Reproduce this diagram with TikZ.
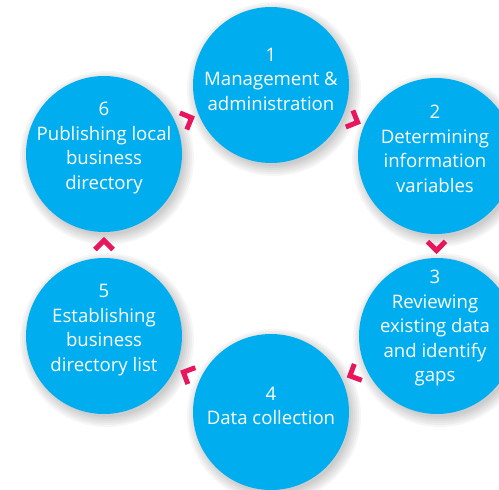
\documentclass[tikz,border=0pt]{standalone}
\usepackage{fontspec}
\setmainfont{Open Sans}
\usetikzlibrary{calc}
\definecolor{cblue}{HTML}{00AEEF}
\definecolor{cred}{HTML}{E8175D}
\tikzset{
  stage/.style={circle, fill=cblue, minimum size=156pt, inner sep=0pt},
  stagetext/.style={text=white, align=center, font=\fontsize{18.6}{24.5}\selectfont},
  chev/.pic={\draw[cred, line width=5pt, miter limit=10] (-4.5,-9) -- (4.5,0) -- (-4.5,9);},
  chevmark/.style={pos=0.5, sloped, allow upside down}
}
\begin{document}
\begin{tikzpicture}[x=1pt,y=-1pt]
\useasboundingbox (0,0) rectangle (499,490);
\clip (0,0) rectangle (499,490);
\coordinate (p1) at (271,85);
\coordinate (p2) at (436,156);
\coordinate (p3) at (437,336);
\coordinate (p4) at (271,412);
\coordinate (p5) at (104,336);
\coordinate (p6) at (104,154);
% soft shadows
\foreach \p in {p1,p2,p3,p4,p5,p6}{
  \foreach \r in {87,85,...,77}{
    \fill[black, opacity=0.035] ($(\p)+(3,4)$) circle[radius=\r pt];
  }
}
% circles
\foreach \i in {1,...,6}{
  \node[stage] (c\i) at (p\i) {};
}
% texts
\node[stagetext] (t1) at ($(p1)+(0,-6)$) {1\\Management \&\\administration};
\node[stagetext] (t2) at ($(p2)+(-1,-7)$) {2\\Determining\\information\\variables};
\node[stagetext] (t3) at ($(p3)+(-2,-8)$) {3\\Reviewing\\existing data\\and identify\\gaps};
\node[stagetext] (t4) at ($(p4)+(0,-6)$) {4\\Data collection};
\node[stagetext] (t5) at ($(p5)+(0,-6)$) {5\\Establishing\\business\\directory list};
\node[stagetext] (t6) at ($(p6)+(0,-6)$) {6\\Publishing local\\business\\directory};
% chevrons
\path (c6) -- (c1) pic[chevmark] {chev};
\path (c1) -- (c2) pic[chevmark] {chev};
\path (c2) -- (c3) pic[chevmark] {chev};
\path (c3) -- (c4) pic[chevmark] {chev};
\path (c4) -- (c5) pic[chevmark] {chev};
\path (c5) -- (c6) pic[chevmark] {chev};
\end{tikzpicture}
\end{document}
